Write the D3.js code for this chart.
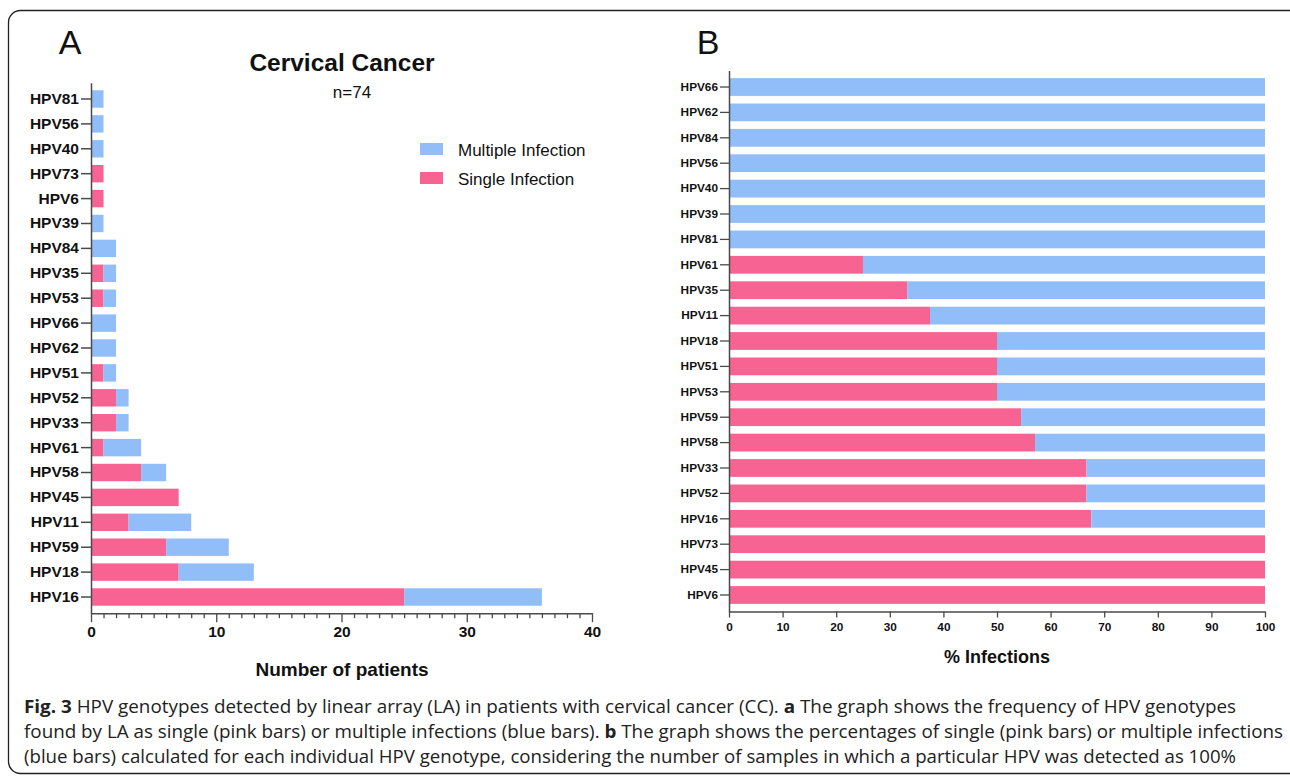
<!DOCTYPE html>
<html><head><meta charset="utf-8">
<script src="https://cdn.jsdelivr.net/npm/d3@7"></script>
<style>
html,body{margin:0;padding:0;background:#fff;}
svg{display:block;}
</style></head>
<body>
<svg id="chart" width="1290" height="776"></svg>
<script>
// ---- Data ----
const catsA = ["HPV81","HPV56","HPV40","HPV73","HPV6","HPV39","HPV84","HPV35","HPV53","HPV66","HPV62","HPV51","HPV52","HPV33","HPV61","HPV58","HPV45","HPV11","HPV59","HPV18","HPV16"];
const singleA = [0,0,0,1,1,0,0,1,1,0,0,1,2,2,1,4,7,3,6,7,25];
const multipleA = [1,1,1,0,0,1,2,1,1,2,2,1,1,1,3,2,0,5,5,6,11];
const ticksA = [0,10,20,30,40];

const catsB = ["HPV66","HPV62","HPV84","HPV56","HPV40","HPV39","HPV81","HPV61","HPV35","HPV11","HPV18","HPV51","HPV53","HPV59","HPV58","HPV33","HPV52","HPV16","HPV73","HPV45","HPV6"];
const singleB = [0,0,0,0,0,0,0,25,33.3,37.5,50,50,50,54.5,57.1,66.7,66.7,67.6,100,100,100];
const multipleB = [100,100,100,100,100,100,100,75,66.7,62.5,50,50,50,45.5,42.9,33.3,33.3,32.4,0,0,0];
const ticksB = [0,10,20,30,40,50,60,70,80,90,100];

const legendLabels = ["Multiple Infection","Single Infection"];
const captionLines = [
  [["Fig. 3",true],[" HPV genotypes detected by linear array (LA) in patients with cervical cancer (CC). ",false],["a",true],[" The graph shows the frequency of HPV genotypes",false]],
  [["found by LA as single (pink bars) or multiple infections (blue bars). ",false],["b",true],[" The graph shows the percentages of single (pink bars) or multiple infections",false]],
  [["(blue bars) calculated for each individual HPV genotype, considering the number of samples in which a particular HPV was detected as 100%",false]]
];

const PINK = "#F76494", BLUE = "#91BEF8", AXIS = "#4a4a4a";
const FONT = "'Liberation Sans', Arial, sans-serif";

const svg = d3.select("#chart");

// frame
svg.append("rect").attr("x",8.5).attr("y",10.5).attr("width",1300).attr("height",763)
  .attr("rx",12).attr("fill","none").attr("stroke","#222").attr("stroke-width",1.3);

// ---------- Panel A ----------
const xA = d3.scaleLinear().domain([0,40]).range([91,592]);
const yA = d3.scaleBand().domain(catsA).range([82.8,613.2]).padding(0.3);
const gA = svg.append("g");

gA.selectAll("rect.s").data(catsA).join("rect")
  .attr("x",xA(0)).attr("y",d=>yA(d))
  .attr("width",(d,i)=>xA(singleA[i])-xA(0)).attr("height",yA.bandwidth()).attr("fill",PINK);
gA.selectAll("rect.m").data(catsA).join("rect")
  .attr("x",(d,i)=>xA(singleA[i])).attr("y",d=>yA(d))
  .attr("width",(d,i)=>xA(singleA[i]+multipleA[i])-xA(singleA[i])).attr("height",yA.bandwidth()).attr("fill",BLUE);

// y axis A
const yAxA = gA.append("g").attr("transform",`translate(${xA(0)},0)`)
  .call(d3.axisLeft(yA).tickSize(10).tickPadding(2).tickSizeOuter(0));
yAxA.select(".domain").attr("stroke",AXIS).attr("stroke-width",1.5);
yAxA.selectAll(".tick line").attr("stroke",AXIS).attr("stroke-width",1.5);
yAxA.selectAll("text").attr("font-family",FONT).attr("font-weight","bold").attr("font-size",15.5).attr("fill","#111");

// x axis A
const xAxA = gA.append("g").attr("transform",`translate(0,613.2)`)
  .call(d3.axisBottom(xA).tickValues(d3.range(0,41,1)).tickSize(5).tickSizeOuter(0).tickFormat(d=>ticksA.includes(d)?d:""));
xAxA.select(".domain").attr("stroke",AXIS).attr("stroke-width",1.5);
xAxA.selectAll(".tick line").attr("stroke",AXIS).attr("stroke-width",1.3)
  .attr("y2",d=>ticksA.includes(d)?9:5);
xAxA.selectAll("text").attr("font-family",FONT).attr("font-weight","bold").attr("font-size",15.5).attr("fill","#111").attr("y",13);

gA.append("text").attr("x",342).attr("y",676).attr("text-anchor","middle")
  .attr("font-family",FONT).attr("font-weight","bold").attr("font-size",19).attr("fill","#111").text("Number of patients");
gA.append("text").attr("x",342).attr("y",71).attr("text-anchor","middle")
  .attr("font-family",FONT).attr("font-weight","bold").attr("font-size",24.5).attr("fill","#111").text("Cervical Cancer");
gA.append("text").attr("x",352).attr("y",98).attr("text-anchor","middle")
  .attr("font-family",FONT).attr("font-size",17).attr("fill","#111").text("n=74");
svg.append("text").attr("x",70).attr("y",54).attr("text-anchor","middle")
  .attr("font-family",FONT).attr("font-size",34).attr("fill","#111").text("A");

// legend
const lg = gA.append("g");
lg.selectAll("rect").data(legendLabels).join("rect")
  .attr("x",420).attr("y",(d,i)=>143+i*29).attr("width",23).attr("height",12)
  .attr("fill",(d,i)=>i===0?BLUE:PINK);
lg.selectAll("text").data(legendLabels).join("text")
  .attr("x",458).attr("y",(d,i)=>155.5+i*29)
  .attr("font-family",FONT).attr("font-size",17).attr("fill","#111").text(d=>d);

// ---------- Panel B ----------
const xB = d3.scaleLinear().domain([0,100]).range([729,1265]);
const yB = d3.scaleBand().domain(catsB).range([70.5,611.5]).padding(0.3);
const gB = svg.append("g");

gB.selectAll("rect.s").data(catsB).join("rect")
  .attr("x",xB(0)).attr("y",d=>yB(d))
  .attr("width",(d,i)=>xB(singleB[i])-xB(0)).attr("height",yB.bandwidth()).attr("fill",PINK);
gB.selectAll("rect.m").data(catsB).join("rect")
  .attr("x",(d,i)=>xB(singleB[i])).attr("y",d=>yB(d))
  .attr("width",(d,i)=>xB(singleB[i]+multipleB[i])-xB(singleB[i])).attr("height",yB.bandwidth()).attr("fill",BLUE);

const yAxB = gB.append("g").attr("transform",`translate(${xB(0)},0)`)
  .call(d3.axisLeft(yB).tickSize(9).tickPadding(2).tickSizeOuter(0));
yAxB.select(".domain").attr("stroke",AXIS).attr("stroke-width",1.5);
yAxB.selectAll(".tick line").attr("stroke",AXIS).attr("stroke-width",1.3);
yAxB.selectAll("text").attr("font-family",FONT).attr("font-weight","bold").attr("font-size",11.8).attr("fill","#111");

const xAxB = gB.append("g").attr("transform",`translate(0,611.5)`)
  .call(d3.axisBottom(xB).tickValues(ticksB).tickSize(6).tickSizeOuter(0));
xAxB.select(".domain").attr("stroke",AXIS).attr("stroke-width",1.5);
xAxB.selectAll(".tick line").attr("stroke",AXIS).attr("stroke-width",1.3);
xAxB.selectAll("text").attr("font-family",FONT).attr("font-weight","bold").attr("font-size",11.8).attr("fill","#111").attr("y",11);

gB.append("text").attr("x",997).attr("y",663).attr("text-anchor","middle")
  .attr("font-family",FONT).attr("font-weight","bold").attr("font-size",18).attr("fill","#111").text("% Infections");
svg.append("text").attr("x",708).attr("y",54).attr("text-anchor","middle")
  .attr("font-family",FONT).attr("font-size",34).attr("fill","#111").text("B");

// ---------- Caption ----------
const capEnds = [1236,1283,1236];
captionLines.forEach((line,li)=>{
  const t = svg.append("text").attr("x",24).attr("y",713+li*25)
    .attr("font-family","'Open Sans', 'Noto Sans', sans-serif").attr("font-size",18).attr("fill","#222")
    .attr("textLength",capEnds[li]-24).attr("lengthAdjust","spacingAndGlyphs");
  line.forEach(([s,b])=>{
    t.append("tspan").attr("font-weight",b?"bold":"normal").text(s);
  });
});
</script>
</body></html>
